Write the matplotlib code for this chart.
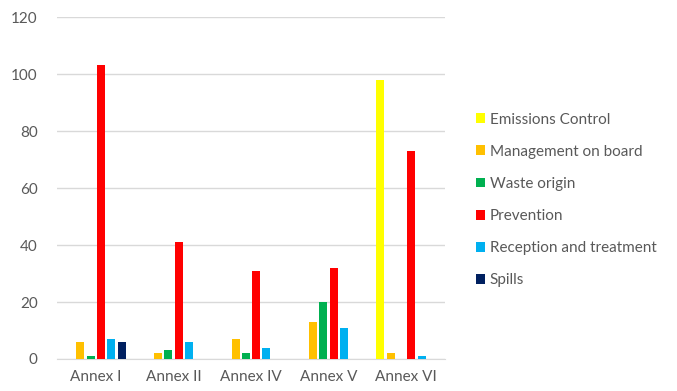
import numpy as np
import matplotlib.pyplot as plt

plt.rcParams['font.family'] = ['Lato', 'DejaVu Sans']

# values per annex
annexes = ["Annex I", "Annex II", "Annex IV", "Annex V", "Annex VI"]
emissions_control = [0, 0, 0, 0, 98]
management_on_board = [6, 2, 7, 13, 2]
waste_origin = [1, 3, 2, 20, 0]
prevention = [103, 41, 31, 32, 73]
reception_treatment = [7, 6, 4, 11, 1]
spills = [6, 0, 0, 0, 0]

series = [
    ("Emissions Control", emissions_control, "#FFFF00"),
    ("Management on board", management_on_board, "#FFC000"),
    ("Waste origin", waste_origin, "#00B050"),
    ("Prevention", prevention, "#FF0000"),
    ("Reception and treatment", reception_treatment, "#00B0F0"),
    ("Spills", spills, "#002060"),
]

fig = plt.figure(figsize=(6.77, 3.91), dpi=100)
ax = fig.add_axes([57/677, 1-359/391, (445-57)/677, (359-17)/391])

x = np.arange(len(annexes))
slot = 0.133
width = 0.103
for i, (name, vals, col) in enumerate(series):
    ax.bar(x + (i - 2.5) * slot, vals, width, color=col, label=name, zorder=3)

ax.set_xlim(-0.5, len(annexes) - 0.5)
ax.set_ylim(0, 120)
ax.set_yticks(range(0, 121, 20))
ax.set_xticks(x)
ax.set_xticklabels(annexes)
ax.grid(axis='y', color='#D9D9D9', linewidth=1, zorder=0)
for s in ['top', 'right', 'left']:
    ax.spines[s].set_visible(False)
ax.spines['bottom'].set_color('#D9D9D9')
ax.tick_params(axis='both', length=0, labelsize=11, labelcolor='#595959')
ax.tick_params(axis='y', pad=14)
ax.tick_params(axis='x', pad=8)

ax.legend(loc='center left', bbox_to_anchor=(462/677, 1-200/391), bbox_transform=fig.transFigure,
          frameon=False, fontsize=11, labelcolor='#595959', handlelength=0.6,
          handleheight=0.6, handletextpad=0.3, labelspacing=1.19)

fig.savefig("out.png", dpi=100)
